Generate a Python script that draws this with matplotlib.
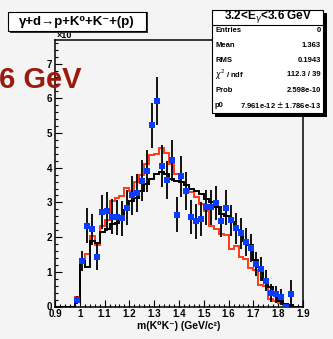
import numpy as np
import matplotlib
matplotlib.use("Agg")
import matplotlib.pyplot as plt
from matplotlib.patches import Rectangle
from matplotlib.ticker import MultipleLocator

plt.rcParams['font.family'] = ['Liberation Sans', 'DejaVu Sans']

# histogram bins: 50 bins of 0.02 from 0.9 to 1.9
edges = np.round(np.arange(0.9, 1.9001, 0.02), 3)

# red model histogram (per bin)
red_hist = [0, 0, 0, 0, 0.27, 1.38, 1.50, 2.02, 1.76, 2.33,
            2.48, 3.05, 3.13, 3.18, 3.42, 3.34, 3.58, 3.78, 4.11, 4.38,
            4.40, 4.57, 4.42, 4.11, 3.82, 3.60, 3.50, 3.30, 3.15, 2.96,
            2.76, 2.33, 2.24, 2.09, 2.05, 1.66, 1.75, 1.42, 1.37, 1.10,
            1.04, 0.63, 0.60, 0.22, 0.16, 0.09, 0.05, 0.02, 0, 0]

# black model histogram (per bin)
black_hist = [0, 0, 0, 0, 0.19, 1.30, 1.15, 1.90, 1.83, 2.14,
              2.24, 2.38, 2.40, 2.57, 2.77, 3.04, 3.13, 3.34, 3.53, 3.68,
              3.82, 3.87, 3.82, 3.68, 3.61, 3.58, 3.51, 3.39, 3.32, 3.25,
              3.10, 3.01, 2.86, 2.67, 2.62, 2.43, 2.20, 2.05, 1.90, 1.76,
              1.33, 1.14, 0.75, 0.56, 0.32, 0.17, 0.08, 0.03, 0, 0]

# data points (blue squares with error bars)
data_x = [0.99, 1.01, 1.03, 1.05, 1.07, 1.09, 1.11, 1.13, 1.15, 1.17,
          1.19, 1.21, 1.23, 1.25, 1.27, 1.29, 1.31, 1.33, 1.35, 1.37,
          1.39, 1.41, 1.43, 1.45, 1.47, 1.49, 1.51, 1.53, 1.55, 1.57,
          1.59, 1.61, 1.63, 1.65, 1.67, 1.69, 1.71, 1.73, 1.75, 1.77,
          1.79, 1.81, 1.83, 1.85]
data_y = [0.19, 1.31, 2.33, 2.22, 1.44, 2.72, 2.74, 2.59, 2.57, 2.54,
          2.85, 3.20, 3.26, 3.63, 3.90, 5.22, 5.92, 4.05, 3.65, 4.21,
          2.65, 3.75, 3.32, 2.58, 2.45, 2.52, 2.86, 2.86, 2.98, 2.45,
          2.85, 2.48, 2.25, 2.11, 1.85, 1.69, 1.23, 1.08, 0.74, 0.39,
          0.35, 0.27, 0.0, 0.35]
data_err = [0.12, 0.30, 0.50, 0.45, 0.38, 0.50, 0.55, 0.50, 0.50, 0.50,
            0.50, 0.55, 0.55, 0.60, 0.60, 0.65, 0.70, 0.60, 0.55, 0.60,
            0.50, 0.60, 0.55, 0.50, 0.50, 0.50, 0.50, 0.50, 0.50, 0.45,
            0.50, 0.45, 0.45, 0.45, 0.40, 0.40, 0.35, 0.35, 0.30, 0.25,
            0.25, 0.22, 0.0, 0.40]

stat_labels = ["Entries", "Mean", "RMS", "$\\chi^2$ / ndf", "Prob", "p0"]
stat_values = ["0", "1.363", "0.1943", "112.3 / 39", "2.598e-10",
               "7.961e-12 $\\pm$ 1.786e-13"]

W, H = 333, 339
bg = '#f4f4f4'
fig = plt.figure(figsize=(W / 100, H / 100), dpi=100, facecolor=bg)

def fx(px):
    return px / W

def fy(py):
    return 1 - py / H

ax = fig.add_axes([fx(55), fy(306.5), fx(303) - fx(55), fy(40) - fy(306.5)])
ax.set_facecolor(bg)

ax.stairs(red_hist, edges, color='#ff3a1a', lw=1.4, zorder=2)
ax.stairs(black_hist, edges, color='black', lw=1.4, zorder=3)
ax.errorbar(data_x, data_y, yerr=data_err, fmt='s', color='#0a3cff',
            ecolor='black', elinewidth=1.3, capsize=0, markersize=4.3,
            markeredgewidth=0, zorder=4)

ax.set_xlim(0.9, 1.9)
ax.set_ylim(0, 7.68)
ax.xaxis.set_major_locator(MultipleLocator(0.1))
ax.xaxis.set_minor_locator(MultipleLocator(0.02))
ax.yaxis.set_major_locator(MultipleLocator(1))
ax.yaxis.set_minor_locator(MultipleLocator(0.2))
ax.set_xticks(np.round(np.arange(0.9, 1.91, 0.1), 1))
ax.set_xticklabels([f"{v:g}" for v in np.round(np.arange(0.9, 1.91, 0.1), 1)])
ax.tick_params(which='both', direction='in', top=False, right=False,
               width=0.8, labelsize=7)
ax.tick_params(which='major', length=5, pad=2)
ax.tick_params(which='minor', length=2.5)
for lab in ax.get_xticklabels() + ax.get_yticklabels():
    lab.set_fontweight('bold')
for s in ax.spines.values():
    s.set_linewidth(1.1)

ax.set_xlabel("m(K⁰K⁻) (GeV/c²)", fontsize=7.5, fontweight='bold', labelpad=1)

# exponent label partly hidden by the title box
fig.text(fx(57), fy(36), "×10", fontsize=6.5, fontweight='bold',
         va='center', ha='left', zorder=1)

# title box
fig.patches.append(Rectangle((fx(10), fy(33)), fx(148) - fx(10), fy(12) - fy(33),
                             transform=fig.transFigure, facecolor='#333333',
                             edgecolor='none', zorder=5))
fig.patches.append(Rectangle((fx(8), fy(31)), fx(146) - fx(8), fy(12) - fy(31),
                             transform=fig.transFigure, facecolor='white',
                             edgecolor='black', lw=0.8, zorder=6))
fig.text(fx(77), fy(21.5), "γ+d→p+K⁰+K⁻+(p)", fontsize=9.5, fontweight='bold',
         ha='center', va='center', zorder=7)

# stats box
fig.patches.append(Rectangle((fx(215), fy(117)), fx(327) - fx(215), fy(13) - fy(117),
                             transform=fig.transFigure, facecolor='black',
                             edgecolor='none', zorder=5))
fig.patches.append(Rectangle((fx(212), fy(113)), fx(323) - fx(212), fy(10) - fy(113),
                             transform=fig.transFigure, facecolor='white',
                             edgecolor='black', lw=0.8, zorder=6))
fig.lines.append(plt.Line2D([fx(212), fx(323)], [fy(25), fy(25)],
                            transform=fig.transFigure, color='black', lw=0.8,
                            zorder=7))
fig.text(fx(268), fy(17), "3.2<E$_{\\gamma}$<3.6 GeV", fontsize=8.5,
         fontweight='bold', ha='center', va='center', zorder=7)
row_y = [31, 45.5, 60, 75, 90, 105.5]
for lab, val, ry in zip(stat_labels, stat_values, row_y):
    fig.text(fx(215), fy(ry), lab, fontsize=5.5, fontweight='bold',
             ha='left', va='center', zorder=7)
    fig.text(fx(321), fy(ry), val, fontsize=5.5, fontweight='bold',
             ha='right', va='center', zorder=7)

# overlaid slide text
fig.text(fx(-1), fy(79.5), "6 GeV", fontsize=21, fontweight='bold',
         color='#9b1a0c', ha='left', va='center', zorder=8)

fig.savefig("out.png", dpi=100, facecolor=bg)
